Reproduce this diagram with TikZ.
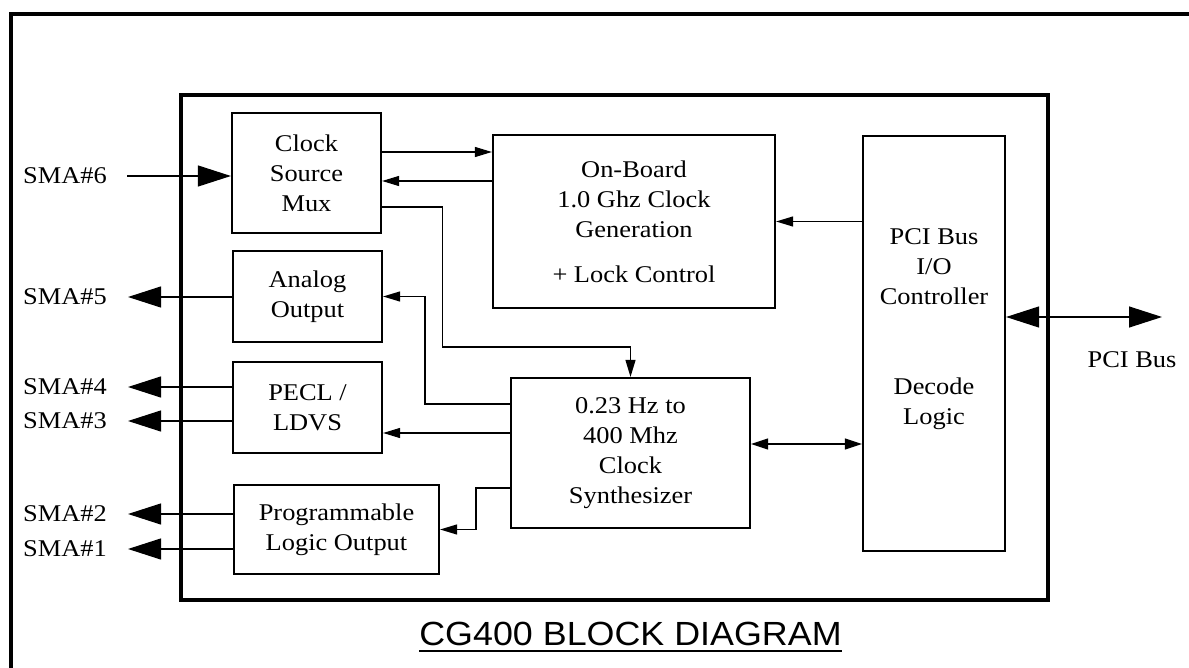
\documentclass[tikz,border=0pt]{standalone}
\usepackage{fontspec}
\setmainfont{Liberation Serif}[FakeStretch=1.1]
\newfontfamily\titlefont{Liberation Sans}[FakeStretch=1.07]
\usetikzlibrary{arrows.meta}
\tikzset{
  blk/.style={draw, line width=2.2pt, inner sep=0pt, align=center, font=\fontsize{24}{30}\selectfont},
  sma/.style={anchor=west, inner sep=0pt, font=\fontsize{24}{30}\selectfont},
  wire/.style={line width=1.2pt},
  sml/.style={wire, -{Triangle[length=17pt,width=10pt]}},
  smlboth/.style={wire, {Triangle[length=17pt,width=11pt]}-{Triangle[length=17pt,width=11pt]}},
  big/.style={wire, -{Triangle[length=33pt,width=21pt]}},
  bigboth/.style={wire, {Triangle[length=33pt,width=21pt]}-{Triangle[length=33pt,width=21pt]}},
}
\begin{document}
\begin{tikzpicture}[x=1pt,y=-1pt]
    \useasboundingbox (0,0) rectangle (1189,668);
    % frames
    \draw[line width=4pt] (11,668) -- (11,14) -- (1189,14);
    \draw[line width=3.4pt] (181,95) rectangle (1048,600);
    % blocks
    \node[blk, minimum width=149pt, minimum height=120pt] (mux) at (306.5,173) {Clock\\Source\\Mux};
    \node[blk, minimum width=149pt, minimum height=91pt] (analog) at (307.5,296.5) {Analog\\Output};
    \node[blk, minimum width=149pt, minimum height=91pt] (pecl) at (307.5,407.5) {PECL /\\LDVS};
    \node[blk, minimum width=205pt, minimum height=89pt] (prog) at (336.5,529.5) {Programmable\\Logic Output};
    \node[blk, minimum width=282pt, minimum height=173pt] (gen) at (634,221.5) {On-Board\\1.0 Ghz Clock\\Generation\\[15pt]+ Lock Control};
    \node[blk, minimum width=239pt, minimum height=150pt] (synth) at (630.5,453) {0.23 Hz to\\400 Mhz\\Clock\\Synthesizer};
    \node[blk, minimum width=142pt, minimum height=415pt,
      label={[align=center, yshift=14pt, font=\fontsize{24}{30}\selectfont]center:{PCI Bus\\I/O\\Controller\\[60pt]Decode\\Logic}}] (pci) at (934,343.5) {};
    % connector labels
    \node[sma] (sma6) at (23,176) {SMA\#6};
    \node[sma] (sma5) at (23,297) {SMA\#5};
    \node[sma] (sma4) at (23,387) {SMA\#4};
    \node[sma] (sma3) at (23,421) {SMA\#3};
    \node[sma] (sma2) at (23,514) {SMA\#2};
    \node[sma] (sma1) at (23,549) {SMA\#1};
    \node[inner sep=0pt, font=\fontsize{24}{30}\selectfont] (busname) at (1132,360) {PCI Bus};
    \coordinate (bus) at (1162,317);
    % outside lines
    \draw[big, shorten <=20pt] (sma6.east) -- (sma6.east -| mux.west);
    \draw[big, shorten >=21pt] (analog.west |- sma5.east) -- (sma5.east);
    \draw[big, shorten >=21pt] (pecl.west |- sma4.east) -- (sma4.east);
    \draw[big, shorten >=21pt] (pecl.west |- sma3.east) -- (sma3.east);
    \draw[big, shorten >=21pt] (prog.west |- sma2.east) -- (sma2.east);
    \draw[big, shorten >=21pt] (prog.west |- sma1.east) -- (sma1.east);
    \draw[bigboth] (pci.east |- bus) -- (bus);
    % inside lines
    \draw[sml] ([yshift=21pt]mux.east) -- ([yshift=21pt]mux.east -| gen.west);
    \draw[sml] ([yshift=-8pt]mux.east -| gen.west) -- ([yshift=-8pt]mux.east);
    \draw[sml] ([yshift=-34pt]mux.east) -| ++(60,140) -| (synth.north);
    \draw[sml] ([yshift=49pt]synth.west) -- ++(-85,0) |- (analog.east);
    \draw[sml] ([yshift=20pt]synth.west) -- ([yshift=20pt]synth.west -| pecl.east);
    \draw[sml] ([yshift=-35pt]synth.west) -- ++(-34,0) |- (prog.east);
    \draw[smlboth] ([yshift=9pt]synth.east) -- ([yshift=9pt]synth.east -| pci.west);
    \draw[sml] (pci.west |- gen.east) -- (gen.east);
    % title
    \node[anchor=base, inner sep=0pt, font=\titlefont\fontsize{33.5}{40}\selectfont] (title) at (630.5,645) {CG400 BLOCK DIAGRAM};
    \draw[line width=2pt] ([yshift=-6pt]title.base west) -- ([yshift=-6pt]title.base east);
\end{tikzpicture}
\end{document}
